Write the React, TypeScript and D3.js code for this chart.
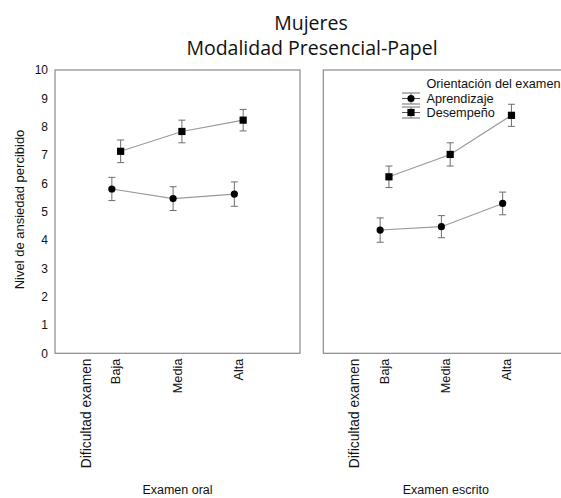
import React from "react";
import * as d3 from "d3";

const categories = ["Baja", "Media", "Alta"];
const panels = ["Examen oral", "Examen escrito"];
const seriesNames = ["Aprendizaje", "Desempeño"];
// means [panel][category]
const aprendizajeMean = [
  [5.8, 5.46, 5.62],
  [4.35, 4.47, 5.29],
];
const aprendizajeErr = [
  [0.41, 0.42, 0.43],
  [0.43, 0.39, 0.4],
];
const desempenoMean = [
  [7.13, 7.83, 8.23],
  [6.23, 7.02, 8.4],
];
const desempenoErr = [
  [0.4, 0.4, 0.38],
  [0.38, 0.41, 0.39],
];
const yTicks = [0, 1, 2, 3, 4, 5, 6, 7, 8, 9, 10];

const W = 561;
const H = 498;
const top = 70;
const bottom = 353.3;
const panelW = 245;
const panelLefts = [55, 323.3];
const dodge = 4.4;
const sans = "'Liberation Sans', Arial, sans-serif";
const titleFont = "'Open Sans', 'Noto Sans', sans-serif";

export default function App() {
  const y = d3.scaleLinear().domain([0, 10]).range([bottom, top]);
  const line = d3
    .line<[number, number]>()
    .x((d) => d[0])
    .y((d) => d[1]);

  const renderSeries = (
    xs: d3.ScalePoint<string>,
    means: number[],
    errs: number[],
    offset: number,
    shape: "circle" | "square",
    key: string
  ) => {
    const pts: [number, number][] = categories.map((c, i) => [
      (xs(c) as number) + offset,
      y(means[i]),
    ]);
    return (
      <g key={key}>
        <path d={line(pts) || ""} fill="none" stroke="#9a9a9a" strokeWidth={1.1} />
        {categories.map((c, i) => {
          const cx = pts[i][0];
          const y1 = y(means[i] + errs[i]);
          const y2 = y(means[i] - errs[i]);
          return (
            <g key={c} stroke="#6e6e6e" strokeWidth={1}>
              <line x1={cx} x2={cx} y1={y1} y2={y2} />
              <line x1={cx - 3.5} x2={cx + 3.5} y1={y1} y2={y1} />
              <line x1={cx - 3.5} x2={cx + 3.5} y1={y2} y2={y2} />
            </g>
          );
        })}
        {pts.map((p, i) =>
          shape === "circle" ? (
            <circle key={i} cx={p[0]} cy={p[1]} r={3.6} fill="#000" />
          ) : (
            <rect key={i} x={p[0] - 3.6} y={p[1] - 3.6} width={7.2} height={7.2} fill="#000" />
          )
        )}
      </g>
    );
  };

  return (
    <svg
      width={W}
      height={H}
      style={{ position: "absolute", left: 0, top: 0, background: "#fff" }}
    >
      <rect width={W} height={H} fill="#fff" />
      <text x={311} y={29.5} textAnchor="middle" fontFamily={titleFont} fontSize={19.5} fill="#111">
        Mujeres
      </text>
      <text x={312} y={55} textAnchor="middle" fontFamily={titleFont} fontSize={19.5} fill="#111">
        Modalidad Presencial-Papel
      </text>

      {/* y axis */}
      {yTicks.map((t) => (
        <text
          key={t}
          x={48}
          y={y(t)}
          dy="0.35em"
          textAnchor="end"
          fontFamily={sans}
          fontSize={12}
          fill="#111"
        >
          {t}
        </text>
      ))}
      <text
        transform={`translate(24,209.5) rotate(-90)`}
        textAnchor="middle"
        fontFamily={sans}
        fontSize={13}
        fill="#111"
      >
        Nivel de ansiedad percibido
      </text>

      {panels.map((pName, pi) => {
        const left = panelLefts[pi];
        const xs = d3
          .scalePoint<string>()
          .domain(categories)
          .range([left, left + panelW])
          .padding(1);
        const step = xs.step();
        const headerX = (xs(categories[0]) as number) - step / 2;
        return (
          <g key={pName}>
            <rect
              x={left}
              y={top}
              width={panelW}
              height={bottom - top}
              fill="none"
              stroke="#8a8a8a"
              strokeWidth={1.2}
            />
            {renderSeries(xs, aprendizajeMean[pi], aprendizajeErr[pi], -dodge, "circle", "a")}
            {renderSeries(xs, desempenoMean[pi], desempenoErr[pi], dodge, "square", "d")}
            <text
              transform={`translate(${headerX + 5},358.5) rotate(-90)`}
              textAnchor="end"
              fontFamily={sans}
              fontSize={13.8}
              fill="#111"
            >
              Dificultad examen
            </text>
            {categories.map((c) => (
              <text
                key={c}
                transform={`translate(${(xs(c) as number) + 4},358.5) rotate(-90)`}
                textAnchor="end"
                fontFamily={sans}
                fontSize={12.8}
                fill="#111"
              >
                {c}
              </text>
            ))}
            <text
              x={left + panelW / 2}
              y={494}
              textAnchor="middle"
              fontFamily={sans}
              fontSize={12.5}
              fill="#111"
            >
              {pName}
            </text>
          </g>
        );
      })}

      {/* legend */}
      <g fontFamily={sans} fontSize={12.7} fill="#111">
        <text x={426.5} y={88}>Orientación del examen</text>
        {seriesNames.map((s, i) => {
          const cy = 98.5 + i * 14;
          return (
            <g key={s}>
              <g stroke="#6e6e6e" strokeWidth={1}>
                <line x1={402} x2={420} y1={cy - 5.5} y2={cy - 5.5} />
                <line x1={402} x2={420} y1={cy + 5.5} y2={cy + 5.5} />
                <line x1={411} x2={411} y1={cy - 5.5} y2={cy + 5.5} />
              </g>
              <line x1={402} x2={420} y1={cy} y2={cy} stroke="#555" strokeWidth={1} />
              {i === 0 ? (
                <circle cx={411} cy={cy} r={3.6} fill="#000" />
              ) : (
                <rect x={411 - 3.6} y={cy - 3.6} width={7.2} height={7.2} fill="#000" />
              )}
              <text x={426.5} y={cy + 4}>
                {s}
              </text>
            </g>
          );
        })}
      </g>
    </svg>
  );
}
